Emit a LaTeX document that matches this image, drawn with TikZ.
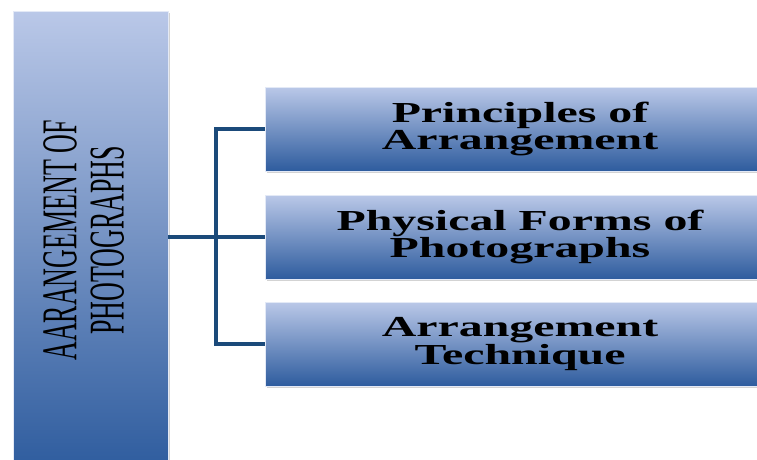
\documentclass[tikz,border=0pt]{standalone}
\usepackage{fontspec}
\setmainfont{Liberation Serif}
\newfontfamily\widefont[FakeStretch=1.65]{Liberation Serif}
\newfontfamily\narrowfont[FakeStretch=0.52]{Liberation Serif}
\usetikzlibrary{shadows}
\definecolor{boxtop}{HTML}{BAC8E8}
\definecolor{boxmid}{HTML}{8EA5D5}
\definecolor{boxbot}{HTML}{2E5C9E}
\definecolor{linkblue}{HTML}{1B4A7A}
\begin{document}
\begin{tikzpicture}[x=1pt,y=-1pt,
  box/.style={rectangle,draw=white!60!boxtop,line width=0.8pt,top color=boxtop,middle color=boxmid,bottom color=boxbot,
    drop shadow={opacity=0.35,shadow xshift=2pt,shadow yshift=-2pt}},
  topic/.style={box,minimum width=510pt,minimum height=84pt,align=center,
    font=\widefont\bfseries\fontsize{29}{25}\selectfont},
  link/.style={draw=linkblue,line width=4pt}]
  \useasboundingbox (0,0) rectangle (757,459);
  \clip (0,0) rectangle (757,459);
  \node[box,minimum width=155pt,minimum height=459pt,
    font=\narrowfont\fontsize{50}{47}\selectfont] (arr) at (90.5,240.5)
    {\rotatebox{90}{\begin{tabular}{@{}c@{}}AARANGEMENT OF\\PHOTOGRAPHS\end{tabular}}};
  \node[topic] (prin) at (520,129) {Principles of\\Arrangement};
  \node[topic] (phys) at (520,237) {Physical Forms of\\Photographs};
  \node[topic] (tech) at (520,344) {Arrangement\\Technique};
  \coordinate (j) at (216,237);
  \path[link] (arr.east |- phys) -- (phys.west);
  \path[link] (prin.west) -| (j) |- (tech.west);
\end{tikzpicture}
\end{document}
